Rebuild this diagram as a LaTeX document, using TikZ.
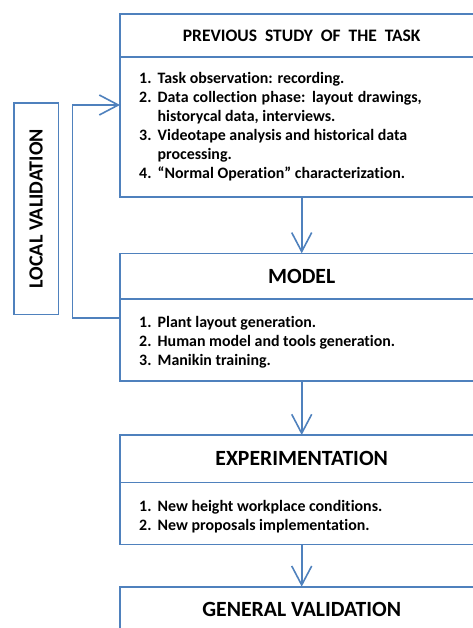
\documentclass[tikz,border=0pt]{standalone}
\usepackage{fontspec}
\setmainfont{Carlito}[Ligatures={TeX,NoCommon}]
\usepackage{xcolor}
\usetikzlibrary{arrows.meta, positioning}

\definecolor{frameblue}{RGB}{79,129,189}
\newcommand{\itemno}[1]{\makebox[18.5pt][l]{#1}}

\begin{document}
\begin{tikzpicture}[
  node distance=0pt,
  head/.style={rectangle, draw=frameblue, line width=1.6pt, outer sep=0pt, minimum width=363.4pt, inner sep=0pt, font=\bfseries\fontsize{21.7}{25}\selectfont},
  body/.style={rectangle, draw=frameblue, line width=1.6pt, outer sep=0pt, minimum width=363.4pt, inner sep=0pt},
  items/.style={inner sep=0pt, align=left, font=\bfseries\fontsize{15.9}{19}\selectfont},
  sidebox/.style={rectangle, draw=frameblue, line width=1.6pt, rotate=90, minimum width=211pt, minimum height=44.3pt, font=\bfseries\fontsize{20.1}{23}\selectfont},
  arrow/.style={-{Straight Barb[length=19pt, width=20pt]}, draw=frameblue, line width=1.6pt}
]
\useasboundingbox (0,0) rectangle (473pt,-628pt);
\clip (0,0) rectangle (473pt,-628pt);

\node[head, minimum height=43.3pt, font=\bfseries\fontsize{17.5}{21}\selectfont] (prevhead) at (301.7pt,-35.65pt) {PREVIOUS\ \ STUDY\ \ OF\ \ THE\ \ TASK};
\node[body, minimum height=139.7pt, below=of prevhead] (prevbody) {};
\node[items, below right=15pt and 19pt of prevbody.north west] (prevlist) {%
  \itemno{1.}Task observation: recording.\\
  \itemno{2.}\makebox[264pt][s]{Data collection phase: layout drawings,}\\
  \itemno{}historycal data, interviews.\\
  \itemno{3.}Videotape analysis and historical data\\
  \itemno{}processing.\\
  \itemno{4.}“Normal Operation” characterization.};

\node[head, minimum height=45.7pt, below=56.3pt of prevbody] (modelhead) {MODEL};
\node[body, minimum height=82pt, below=of modelhead] (modelbody) {};
\node[items, below right=17.5pt and 19pt of modelbody.north west] (modellist) {%
  \itemno{1.}Plant layout generation.\\
  \itemno{2.}Human model and tools generation.\\
  \itemno{3.}Manikin training.};

\node[head, minimum height=47.3pt, below=54pt of modelbody] (exphead) {EXPERIMENTATION};
\node[body, minimum height=62pt, below=of exphead] (expbody) {};
\node[items, below right=18.2pt and 19pt of expbody.north west] (explist) {%
  \itemno{1.}New height workplace conditions.\\
  \itemno{2.}New proposals implementation.};

\node[head, minimum height=46pt, below=42.4pt of expbody] (genhead) {GENERAL VALIDATION};

\node[sidebox] (localval) at (36.2pt,-208.8pt) {LOCAL VALIDATION};

% flow
\draw[arrow] (prevbody) -- (modelhead);
\draw[arrow] (modelbody) -- (exphead);
\draw[arrow] (expbody) -- (genhead);
% feedback loop
\draw[arrow] ([yshift=-18.7pt]modelbody.north west) -- ++(-47.7pt,0) |- ([yshift=-47.7pt]prevbody.north west);
\end{tikzpicture}
\end{document}
